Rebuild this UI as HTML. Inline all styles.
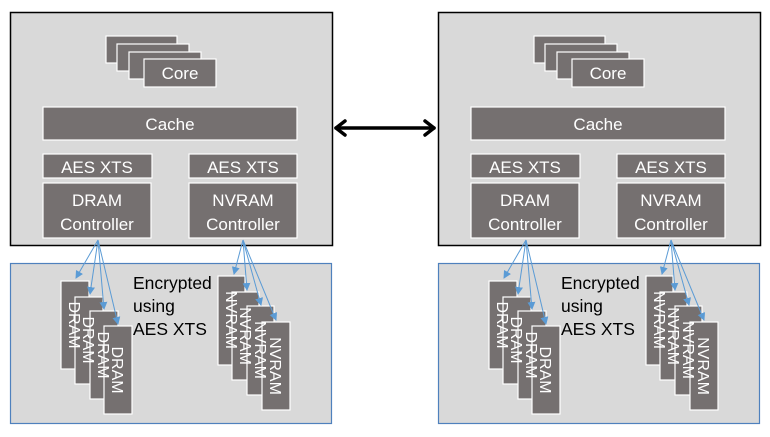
<!DOCTYPE html>
<html><head><meta charset="utf-8"><style>
html,body{margin:0;padding:0;background:#fff;}
svg{display:block;font-family:"Liberation Sans",sans-serif;}
</style></head><body>
<svg width="770" height="437" viewBox="0 0 770 437" xmlns="http://www.w3.org/2000/svg">
<defs>
<marker id="ah" markerWidth="8" markerHeight="8" refX="7" refY="4" orient="auto" markerUnits="userSpaceOnUse">
<path d="M0,0 L8,4 L0,8 z" fill="#5b9bd5"/>
</marker>
<g id="panel">
  <rect x="10.5" y="12.5" width="322" height="233" fill="#d9d9d9" stroke="#000" stroke-width="1.5"/>
  <g fill="#757070" stroke="#fff" stroke-width="1.2">
    <rect x="106" y="36" width="71" height="27"/>
    <rect x="117" y="44" width="72" height="27"/>
    <rect x="129" y="52" width="72" height="27"/>
    <rect x="144" y="59" width="72" height="28"/>
    <rect x="43" y="107" width="254" height="33"/>
    <rect x="43" y="154" width="109" height="24"/>
    <rect x="189" y="154" width="108" height="24"/>
    <rect x="43" y="183" width="108" height="55"/>
    <rect x="189" y="183" width="108" height="55"/>
  </g>
  <g fill="#fff" font-size="17" text-anchor="middle">
    <text x="180" y="79">Core</text>
    <text x="170" y="130">Cache</text>
    <text x="97" y="173">AES XTS</text>
    <text x="243" y="173">AES XTS</text>
    <text x="97" y="206">DRAM</text>
    <text x="97" y="230">Controller</text>
    <text x="243" y="206">NVRAM</text>
    <text x="243" y="230">Controller</text>
  </g>
  <rect x="10.5" y="263.5" width="321" height="160" fill="#d9d9d9" stroke="#4f81bd" stroke-width="1.2"/>
  <g fill="#757070" stroke="#fff" stroke-width="1.2">
    <rect x="61" y="281" width="28" height="88"/>
    <rect x="75" y="297" width="28" height="87"/>
    <rect x="90" y="311" width="28" height="88"/>
    <rect x="104" y="326" width="28" height="88"/>
    <rect x="218" y="276" width="27" height="89"/>
    <rect x="232" y="292" width="27" height="88"/>
    <rect x="247" y="306" width="27" height="89"/>
    <rect x="262" y="322" width="28" height="88"/>
  </g>
  <g fill="#fff" font-size="16" text-anchor="middle">
    <text transform="translate(69,325) rotate(90)">DRAM</text>
    <text transform="translate(83,340) rotate(90)">DRAM</text>
    <text transform="translate(98,355) rotate(90)">DRAM</text>
    <text transform="translate(112,370) rotate(90)">DRAM</text>
    <text transform="translate(226,320) rotate(90)">NVRAM</text>
    <text transform="translate(240,336) rotate(90)">NVRAM</text>
    <text transform="translate(255,350) rotate(90)">NVRAM</text>
    <text transform="translate(270,366) rotate(90)">NVRAM</text>
  </g>
  <g stroke="#5b9bd5" stroke-width="1" marker-end="url(#ah)">
    <line x1="98" y1="240" x2="76" y2="278"/>
    <line x1="98" y1="240" x2="90" y2="294"/>
    <line x1="98" y1="240" x2="104" y2="309"/>
    <line x1="98" y1="240" x2="118" y2="324"/>
    <line x1="243" y1="240" x2="234" y2="274"/>
    <line x1="243" y1="240" x2="247" y2="290"/>
    <line x1="243" y1="240" x2="261" y2="305"/>
    <line x1="243" y1="240" x2="276" y2="320"/>
  </g>
  <g fill="#000" font-size="17.5">
    <text x="133" y="289">Encrypted</text>
    <text x="133" y="312">using</text>
    <text x="133" y="335">AES XTS</text>
  </g>
</g>
</defs>
<use href="#panel"/>
<use href="#panel" transform="translate(428,0)"/>
<g stroke="#000" stroke-width="3.5" fill="none" stroke-linecap="round" stroke-linejoin="round">
  <line x1="336" y1="128" x2="434" y2="128"/>
  <polyline points="345,121 336,128 345,135"/>
  <polyline points="425,121 434,128 425,135"/>
</g>
</svg>
</body></html>
